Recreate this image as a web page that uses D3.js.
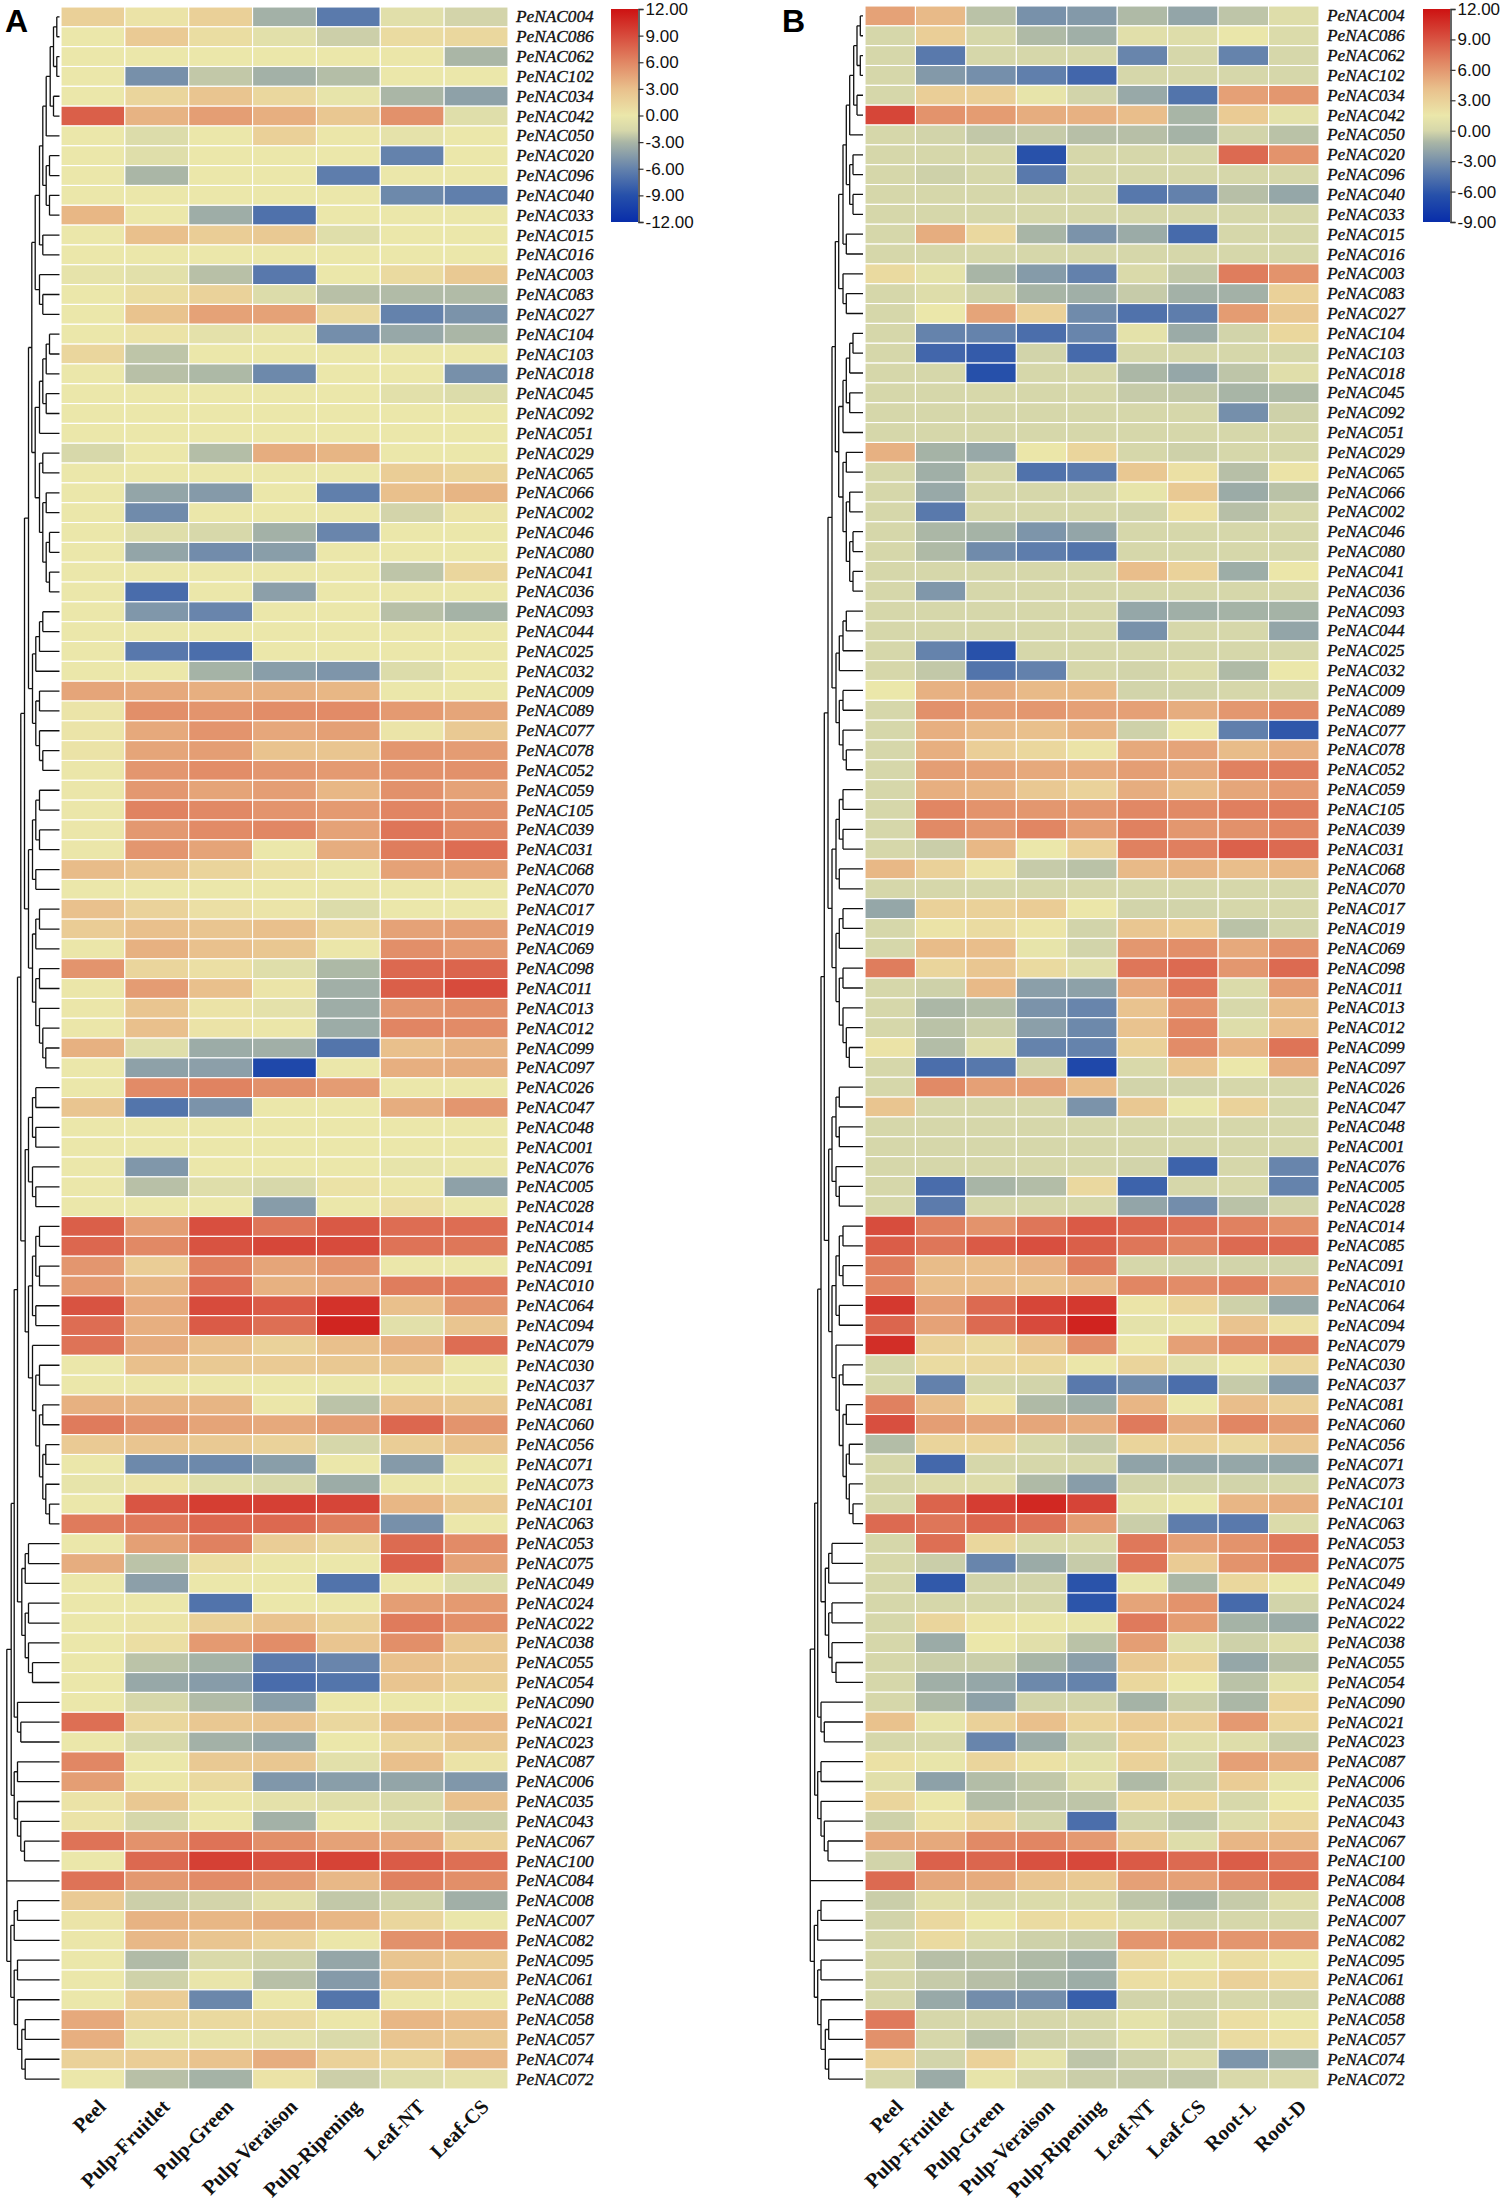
<!DOCTYPE html>
<html>
<head>
<meta charset="utf-8">
<title>PeNAC expression heatmaps</title>
<script src="https://d3js.org/d3.v7.min.js"></script>
<style>
  html, body { margin: 0; padding: 0; background: #fff; }
  svg { display: block; }
  .gene text { font: italic 17.3px "Liberation Serif", serif; fill: #111; stroke: #111; stroke-width: .35px; }
  .tissue text { font: bold 20.5px "Liberation Serif", serif; fill: #111; }
  .cbar text { font: 17px "Liberation Sans", sans-serif; fill: #111; }
  .panel { font: bold 32px "Liberation Sans", sans-serif; fill: #000; }
</style>
</head>
<body>
<svg id="chart" width="1500" height="2203"></svg>
<script>
// row order, top to bottom, same for both panels
const genes = ["004","086","062","102","034","042","050","020","096","040","033","015","016","003","083",
  "027","104","103","018","045","092","051","029","065","066","002","046","080","041","036","093","044",
  "025","032","009","089","077","078","052","059","105","039","031","068","070","017","019","069","098",
  "011","013","012","099","097","026","047","048","001","076","005","028","014","085","091","010","064",
  "094","079","030","037","081","060","056","071","073","101","063","053","075","049","024","022","038",
  "055","054","090","021","023","087","006","035","043","067","100","084","008","007","082","095","061",
  "088","058","057","074","072"];

const tissuesA = ["Peel","Pulp-Fruitlet","Pulp-Green","Pulp-Veraison","Pulp-Ripening","Leaf-NT","Leaf-CS"];
const tissuesB = ["Peel","Pulp-Fruitlet","Pulp-Green","Pulp-Veraison","Pulp-Ripening","Leaf-NT","Leaf-CS","Root-L","Root-D"];

const valuesA = [
  [1.8,.3,1.8,-3.3,-6.5,-.8,-1.8],[0,2.2,.8,-.7,-2,.9,1.2],[0,0,0,0,0,.1,-3],[0,-5.2,-2.3,-3.3,-2.7,0,0],
  [0,1.4,2.6,1.2,-.3,-3,-4.2],[8,3.7,4.8,3.9,2.5,5.5,-1],[0,-1.2,0,1.8,.1,-.5,0],[0,-1,0,0,0,-6,0],
  [0,-3,0,0,-6.3,0,0],[0,0,0,0,0,-5.6,-6.2],[3.5,0,-3.5,-7,0,0,0],[0,3,2,2.3,-1,0,0],[0,0,0,0,0,0,0],
  [-.4,-.7,-2.6,-6.6,0,1,2.3],[0,.8,1.6,-1.2,-2.6,-2.8,-2.8],[0,2.8,4.6,4.6,1,-6,-5],[0,.3,-.6,-.2,-5.3,-3.8,-3],
  [1.3,-2.4,0,0,0,0,0],[0,-2.6,-2.9,-5.6,0,0,-5.2],[0,0,0,0,0,-.7,-1.2],[0,0,0,0,0,0,0],[0,0,0,0,0,0,0],
  [-1.6,0,-2.7,4,3.6,0,0],[0,0,0,0,0,2,1.5],[0,-4,-4.6,0,-6.2,3,3.6],[0,-5.5,0,0,0,-1.8,.2],[0,-1,-1.6,-3.3,-5.8,0,0],
  [0,-4,-5.4,-4.4,0,0,0],[0,0,0,0,0,-2.4,1.3],[0,-7.3,0,-4.3,0,0,0],[0,-4.8,-5.8,0,0,-2.6,-3.2],[0,0,0,0,0,0,0],
  [0,-6.6,-7.2,0,0,0,0],[0,0,-3.2,-4.4,-4.9,-1.2,0],[4.4,4.2,3.9,3.8,3.5,0,0],[.2,5.6,5.3,5.7,5.8,5,4.4],
  [.2,4.2,5.3,4.3,4.7,.2,2.3],[.3,4.4,4.8,2.8,2.6,5.2,4.9],[.1,5.2,5.7,5.2,5,5.5,5.5],[.1,5.1,4.5,4.8,3.5,5.5,4.6],
  [.1,6.2,5.9,5.3,5,6.1,5.5],[.1,5.1,5.8,6,4.6,6.9,5.9],[.1,5.2,4.5,0,4,6.5,7.3],[3.2,2.7,1.5,.5,-.1,4.6,4.6],
  [0,0,0,0,-.1,0,0],[2.9,1.6,.6,.2,-1.2,0,0],[2.1,3,2.6,3,1.5,4.6,4.8],[.1,3.8,2.9,2.5,.1,5.6,5],
  [5.3,1.4,.6,-1,-2.9,7.5,7.7],[.1,4.9,3,.2,-3.4,8,9],[.1,2.6,.3,-.6,-3.5,5.2,5.6],[.1,3,.3,.1,-3.6,6.1,5.8],
  [3.8,-1,-3.6,-3.4,-6.8,3,3.7],[0,-4.2,-4.3,-9.7,0,3.9,4],[0,5.8,6.2,5.5,4.9,0,0],[2.6,-6.8,-5,0,0,4,5.2],
  [0,0,0,0,0,0,0],[0,0,0,0,0,0,0],[0,-4.8,0,0,0,-.3,-.1],[0,-2.6,-1,-1.6,.4,.1,-4.2],[0,0,0,-4.5,0,.7,0],
  [8,4.8,8.8,6.9,8.3,7.3,7.3],[7.6,5.9,8.6,9.2,9,7,6.8],[5.2,2,6.3,4.4,5.3,0,0],[5,3.6,7.3,3.8,4.2,6.5,6.7],
  [8.6,4.2,9,8.2,10.3,3,5.3],[7.3,3.9,8.2,7.2,11,-.7,2.6],[7,4,3,1.6,3,3.9,7.3],[0,3,2.3,2.2,2.4,2.6,0],
  [0,.1,.1,0,-.1,0,0],[3.8,3.6,3.6,.1,-2.5,3,2.5],[6.6,5.5,4.5,4.2,4.8,7.6,5.3],[2.2,2.6,2.3,1.6,-1.7,2,2.8],
  [0,-5.6,-5.6,-4.4,0,-4.6,0],[-.3,.2,-.9,-1.5,-3.6,0,0],[0,8.5,9.7,9.6,9.3,3.5,2.2],[6.6,6.7,7.6,7.5,6.5,-5.2,0],
  [0,4.7,6.3,2,1.2,7.4,5.8],[4,-2.5,.7,.1,0,7.9,4.6],[0,-4.3,0,0,-6.9,.1,-1.2],[0,0,-6.9,0,0,4.8,5],
  [0,.2,1.7,2.8,1.8,6.6,5.6],[0,.7,5,5.7,2.6,5.6,2.5],[0,-2.5,-3.2,-6.4,-5.8,2.9,2.2],[0,-3.8,-4.5,-7.3,-6.8,2.6,1.8],
  [0,-1.7,-2.8,-4.4,0,0,0],[7.2,1.2,2.4,2.6,1.2,3.2,3.4],[0,-1.6,-3.3,-4,0,1.4,2.5],[6,0,2.3,2.5,-.7,3,.3],
  [4.8,.1,1.1,-4.8,-4.4,-4,-4.8],[.3,2.4,.1,-.6,-1,-1.4,2.9],[.3,-1.7,.1,-3.3,0,-1.2,-2],[7,5.4,7,5.6,4.6,4.3,1.8],
  [0,7.5,9.6,8.8,9.4,8.2,7.2],[7,5.1,5.8,4.9,3.4,6.3,5.6],[2.2,-2,-1.8,-.8,-2.3,-1.9,-3.4],[.2,3.7,3.5,4,3.5,1.3,-.1],
  [.1,3.4,2.6,1.6,.1,5.5,5.8],[0,-2.8,-1.4,-1.9,-3.9,2.6,2],[0,-1.9,-.2,-2.6,-4.6,3,2.6],[0,2,-5.7,0,-6.8,0,0],
  [4.2,1.4,1.1,1,.1,3.5,3.1],[3.9,-.3,-.3,-.6,-1.4,2.6,2.4],[1.7,2,2.8,4,1.7,1.4,3.4],[0,-2.6,-3.2,.3,-2,-1.1,-.6]
];

const valuesB = [
  [5.5,4.4,-.7,-3,-2.6,-1,-2,-.6,.6],[0,3.2,0,-1,-1.5,.8,.6,1.4,.4],[0,-4.2,0,0,0,-3.6,0,-3.7,0],[0,-2.6,-3.1,-3.9,-5.2,0,0,0,0],
  [0,3.2,3.1,1.2,-.1,-1.8,-4.5,5.6,6],[9.6,6.2,5.8,5,4.8,4.2,-1.2,3.4,.9],[0,-.1,-.5,-.4,-.8,-.8,-1.3,-.1,-.7],[0,0,0,-6.3,0,0,0,8,6.2],
  [0,-.2,0,-4.2,0,0,0,0,0],[0,0,0,0,0,-4.3,-3.8,-.8,-1.9],[0,0,0,0,0,0,0,0,0],[0,5,2.5,-1.2,-2.9,-1.7,-5,0,0],[0,0,0,0,0,0,0,0,0],
  [2.4,1,-1.2,-2.5,-3.8,.3,-.5,7.2,6.2],[0,.6,-.2,-1.2,-1.5,-.4,-1.4,-1.4,3],[0,1.5,5.4,3,-3.3,-4.6,-4,5.8,3.6],[0,-3.7,-3.7,-4.8,-3.6,1,-1.7,-.1,2.6],
  [0,-5.2,-5.8,-.1,-5,0,0,0,0],[0,0,-6.4,0,0,-1.1,-1.9,-.6,.7],[0,0,.1,0,0,-.4,-.5,-1.2,-1],[0,0,0,0,0,0,0,-3.1,-.2],[0,0,0,0,0,0,0,0,0],
  [4.8,-1.3,-1.8,1.6,2.7,0,-.2,0,0],[0,-1.5,0,-4.6,-4.2,3.6,2,-.8,1.8],[0,-1.8,0,0,0,1.2,3.5,-1.7,-.7],[0,-4.2,0,0,0,-.1,2,-.8,0],
  [0,-1.1,-1.3,-2.8,-2,0,0,0,0],[0,-1,-3.3,-4,-4.5,0,0,0,0],[0,0,0,0,0,4.2,2.9,-1.6,1.6],[0,-2.7,0,0,0,0,0,0,0],[0,0,0,0,0,-1.9,-1.5,-1.3,-1.3],
  [0,0,0,0,0,-3,0,0,-2],[0,-3.7,-6.3,0,0,0,0,0,0],[0,-.5,-4.5,-3.8,0,-.1,.4,-1,1.5],[1.5,4.8,5,4.4,4.4,-.1,-.1,0,0],[0,6.3,5.8,6,5.6,5.6,5,6,6.6],
  [0,4.9,4.4,4.1,4.7,-.2,1.6,-3.9,-6],[0,4.9,3.2,2.6,1.8,5.2,5.4,4.3,4.9],[0,5.7,5.5,5.2,5.2,5.7,5.3,7,7.2],[0,4.9,4.7,3.6,2.9,5,4.3,5.3,5.9],
  [0,6.8,6.2,6,6,6.7,6.6,7.1,7.2],[0,6.6,6,6.8,5.7,7,6,6.3,6.8],[0,-.3,4.5,1.5,3,7,7.1,8.4,8],[4.5,3,1.8,-.4,-.7,4.4,4.7,4.2,4.5],[0,0,0,0,0,0,0,0,0],
  [-1.9,3,3,3.3,1.6,-.1,-.1,0,0],[0,1.8,2.3,1.7,-.1,3.7,3.4,-.7,-.1],[0,4.3,4.2,1.2,-.1,6,6.4,5.2,6.3],[7.2,2.7,3.7,2.4,.7,7.5,8,6,8],
  [0,-.2,4.4,-2.3,-2.2,5.2,7.4,.4,5.8],[0,-1.1,-.9,-2.9,-3.6,3.9,6.2,.1,4.3],[0,-.7,-.3,-2.3,-3.4,3.9,6.8,.6,4.2],[1.8,-.9,.6,-3.7,-3.7,3,6.5,4.6,7.6],
  [0,-4.8,-4.3,-.1,-7,.2,3.8,1.5,5],[0,6.6,5.6,5.6,4.3,-.1,-.1,0,0],[3.8,0,0,0,-2.9,3.6,1.3,2.9,0],[0,0,0,0,0,0,0,0,0],[0,0,0,0,0,0,0,0,0],
  [0,0,0,0,0,-.1,-5.4,0,-3.6],[0,-4.9,-1.2,-.9,2.5,-5.4,0,.1,-3.7],[0,-4.1,0,0,0,-2,-3.2,-.7,-.1],[9.3,7,6.2,7.5,8.7,8.2,7.7,7,6.4],
  [8.6,7.5,8.7,9.2,8.5,7.5,6.9,8,8],[7.2,4.3,4.2,4.8,7.2,0,-.1,-.1,-.1],[6.8,4.2,4.2,3.9,4.4,6.8,6.5,7,5.7],[10.2,5.7,8,9.6,10.2,1.7,2.8,-.2,-1.8],
  [8.2,5.5,8,9.4,11.2,1,1.3,3.9,2],[10.7,3,2.4,4,6.4,1.6,5.6,6.6,7.2],[0,2.3,2.5,2.6,1.6,2.8,.8,1.5,2.7],[0,-3.8,0,-.1,-4.2,-3.3,-4.8,-.4,-2.5],
  [7,4.2,1.9,-1,-1.5,4.6,1.5,4.2,3.2],[9.2,5.7,5.3,5.3,5,7.3,5,6.8,5.8],[-.9,2.8,2.8,.1,-.4,2.8,3,2.5,3.7],[0,-5.1,0,0,0,-2.1,-2,-1.9,-1.9],
  [0,.5,.5,-1,-2.4,-.1,-.1,-.1,0],[0,8.3,10,11,9.7,1,1.4,4.6,4.9],[8,7.5,8.2,7.7,5.8,-.3,-4,-4.2,.4],[0,7.8,2.6,.3,.3,7.4,5.6,6.2,7.4],
  [.1,-.3,-3.6,-1.7,-.4,7.6,3.4,6.2,7.2],[0,-5.9,-.1,-.1,-6.2,1.3,-1.1,2.6,1.4],[0,0,0,0,-6.1,5.4,6.2,-5,-.1],[0,2.7,1.7,1.4,1.3,7.3,5.8,-1.3,-1.7],
  [0,-1.7,1.5,.8,-.7,5.7,.7,-.2,.6],[0,-.3,-.3,-1.2,-2.3,3.6,2.8,-1.9,-.8],[0,-1.5,-1.9,-3.4,-3.7,2.6,1.5,-.7,.9],[0,-1.1,-2.2,-.1,-.1,-1.3,-.3,-1.1,2.7],
  [4,1.2,3,4.1,2.8,3.4,3.2,5.9,2.7],[0,.1,-3.6,-1.7,-.2,3,.7,.6,-.3],[1.9,1.3,2.7,1.9,.9,3,0,5.6,4.9],[.8,-2.2,-.9,-.5,.6,-1,-.2,3.3,1.2],
  [2.7,1.5,-.9,-.6,-.6,2.5,2.6,.1,1.5],[-.2,1.9,2.8,-.1,-4.8,-.1,-.5,.5,2.7],[5.2,5.2,6.6,6.8,5.9,3.5,.6,4.6,4.6],[-.1,8.4,8.2,9.1,9.5,8.7,8,8.6,7.4],
  [8,5.3,5.1,3.9,3.5,5.6,5.6,6.8,7.9],[-.3,.8,.2,.4,.3,-.6,-1.1,-.4,.5],[-.1,2.5,1.6,2.3,2.2,.7,-.1,0,.1],[0,2.4,.3,-.2,-.4,6.1,6.2,6.1,6.1],
  [0,-.8,-.7,-1,-1.5,2.5,1.3,2.2,1.4],[0,-.4,-.8,-1.2,-1.6,2.1,2.2,3,2.5],[0,-1.8,-3.2,-3.2,-5.6,-.1,-.1,0,-.1],[7.3,0,0,0,.1,1,0,2.1,1.4],
  [6.3,0,-.7,-.2,-.1,.9,0,2.3,2],[3,-.1,3,1,-.6,-.2,.3,-2.8,-1.6],[0,-1.7,1.2,0,-.3,-.4,-.5,.2,.5]
];

// gene tree in newick style, number after ")" is the merge height.
// Written clade by clade, top of the tree to bottom, so the brackets stay readable.
const cladeTop = "(((((((004,086)2.7,(062,102)2.7)6,(034,042)6)9.3,050)13.3,((020,096)10,(040,033)10)13.3)16.7,(015,016)16.7)20,(003,(083,027)16.7)20)24.3";
const cladeMid = "(((((104,103)10,018)13.3,(045,092)13.3)16.7,051)20,((029,065)16.7,((066,002)13.3,((046,080)10,(041,036)10)13.3)16.7)20)24.3";
const clade093 = "(((093,044)16.7,025)20,032)23.7";
const clade009 = "((009,089)20,(077,(078,052)16.7)20)23.7";
const clade059 = "(((059,105)20,(039,031)20)23.7,(068,070)23.7)27";
const clade017 = "(((017,019)20,069)23.7,((098,011)20,(013,(012,(099,097)13.7)16.7)20)23.7)27";
const clade026 = "(((026,047)23.7,(048,001)23.7)27,(076,(005,028)23.7)27)31";
const clade014 = "(((014,085)20,(091,010)20)23.7,(064,094)23.7)27";
const clade079 = "(079,((030,037)20,((081,060)16.7,((056,071)13.7,(073,(101,063)10)13.7)16.7)20)23.7)27";
const clade053 = "(((053,075)31,049)34.3,((024,022)31,(038,(055,054)27)31)34.3)37.7";
const clade090 = "(090,(021,023)38.7)42";
const clade087 = "((087,006)42,(035,(043,(067,100)35)38.7)42)45.3";
const clade008 = "(((008,007)42,082)45.3,((095,061)42,(088,((058,057)34.3,(074,072)34.3)37.7)42)45.3)48.7";

const upper = `((${cladeTop},${cladeMid})27.7,(${clade093},${clade009})27)31`;
const lower = `(${upper},(${clade059},${clade017})31)35`;
const main = `((${lower},(${clade026},(${clade014},${clade079})31)34.3)38.7,${clade053})42`;
const treeNewick = `(((${main},${clade090})45.3,${clade087})48.3,084,${clade008})52.7`;

const colorStops = [-12,-9,-6,-3,-1.7,0,3,6,9,12];
const colorRange = ["#082daa","#2650aa","#6482ac","#aab6a6","#d6d7aa","#ebe7aa","#e9c08c","#e18764","#d74b3c","#cd1212"];

function parseNewick(s) {
  let i = 0;
  function node() {
    if (s[i] === "(") {
      i++;
      const children = [node()];
      while (s[i] === ",") { i++; children.push(node()); }
      i++; // closing bracket
      let num = "";
      while (i < s.length && /[0-9.]/.test(s[i])) num += s[i++];
      return { height: +num, children };
    }
    let id = "";
    while (i < s.length && /[0-9]/.test(s[i])) id += s[i++];
    return { id, height: 0 };
  }
  return node();
}

const svg = d3.select("#chart");
const colorA = d3.scaleLinear().domain(colorStops).range(colorRange);

// same colour ramp stretched over the panel B range
const gradient = svg.append("defs").append("linearGradient")
  .attr("id", "ramp").attr("x1", 0).attr("x2", 0).attr("y1", 1).attr("y2", 0);
gradient.selectAll("stop").data(colorStops).enter().append("stop")
  .attr("offset", d => (d + 12) / 24)
  .attr("stop-color", d => colorA(d));

function drawPanel(opt) {
  const g = svg.append("g");

  const x = d3.scaleBand().domain(opt.tissues).range([opt.x0, opt.x1]);
  const y = d3.scaleBand().domain(genes).range([opt.y0, 2089]);
  const toRamp = d3.scaleLinear().domain(opt.domain).range([-12, 12]);

  // cells
  const rows = g.selectAll("g.row").data(opt.values).enter().append("g").attr("class", "row");
  rows.selectAll("rect")
    .data((row, r) => row.map((v, c) => ({ v, r, c })))
    .enter().append("rect")
    .attr("x", d => x(opt.tissues[d.c]))
    .attr("y", d => y(genes[d.r]))
    .attr("width", x.bandwidth())
    .attr("height", y.bandwidth())
    .attr("fill", d => colorA(toRamp(d.v)))
    .attr("stroke", "#fff")
    .attr("stroke-width", 1.1);

  // gene labels
  const geneAxis = d3.axisRight(y).tickSize(0).tickPadding(opt.labelGap).tickFormat(d => "PeNAC" + d);
  g.append("g").attr("class", "gene")
    .attr("transform", "translate(" + opt.x1 + ",0)")
    .call(geneAxis)
    .call(a => a.select(".domain").remove());

  // tissue labels
  const tissueAxis = d3.axisBottom(x).tickSize(0).tickPadding(0);
  g.append("g").attr("class", "tissue")
    .attr("transform", "translate(0,2089)")
    .call(tissueAxis)
    .call(a => a.select(".domain").remove())
    .selectAll("text")
    .attr("text-anchor", "end")
    .attr("dy", null)
    .attr("y", null)
    .attr("transform", "translate(14,19) rotate(-45)");

  // dendrogram
  const root = d3.hierarchy(parseNewick(treeNewick));
  const h = d3.scaleLinear().domain([0, 52.7]).range([opt.tip, opt.tip - 52.7]);
  root.eachAfter(n => {
    if (!n.children) n.yy = y(n.data.id) + y.bandwidth() / 2;
    else n.yy = (n.children[0].yy + n.children[n.children.length - 1].yy) / 2;
  });
  const branch = d3.path();
  root.each(n => {
    if (!n.children) return;
    branch.moveTo(h(n.data.height), n.children[0].yy);
    branch.lineTo(h(n.data.height), n.children[n.children.length - 1].yy);
    n.children.forEach(c => {
      branch.moveTo(h(n.data.height), c.yy);
      branch.lineTo(h(c.data.height), c.yy);
    });
  });
  g.append("path").attr("d", branch.toString())
    .attr("fill", "none").attr("stroke", "#111").attr("stroke-width", 1.3);

  // colour bar
  const cy = d3.scaleLinear().domain(opt.domain).range([222, 9]);
  g.append("rect")
    .attr("x", opt.barX).attr("y", 9).attr("width", 27).attr("height", 213)
    .attr("fill", "url(#ramp)");
  const barAxis = d3.axisRight(cy).tickValues(opt.ticks).tickSize(5).tickPadding(2).tickFormat(v => v.toFixed(2));
  g.append("g").attr("class", "cbar")
    .attr("transform", "translate(" + (opt.barX + 27.5) + ",0)")
    .call(barAxis)
    .call(a => a.select(".domain").attr("stroke", "#333").attr("stroke-width", 1.5))
    .call(a => a.selectAll("line").attr("stroke", "#333").attr("stroke-width", 1.2));

  svg.append("text").attr("class", "panel").attr("x", opt.letterX).attr("y", 32).text(opt.letter);
}

drawPanel({
  letter: "A", letterX: 5, tissues: tissuesA, values: valuesA,
  x0: 61, x1: 508, y0: 7, labelGap: 8, tip: 59.5,
  domain: [-12, 12], ticks: d3.range(-12, 13, 3), barX: 611
});
drawPanel({
  letter: "B", letterX: 782, tissues: tissuesB, values: valuesB,
  x0: 865, x1: 1319, y0: 6, labelGap: 8, tip: 863,
  domain: [-9, 12], ticks: d3.range(-9, 13, 3), barX: 1423
});
</script>
</body>
</html>
